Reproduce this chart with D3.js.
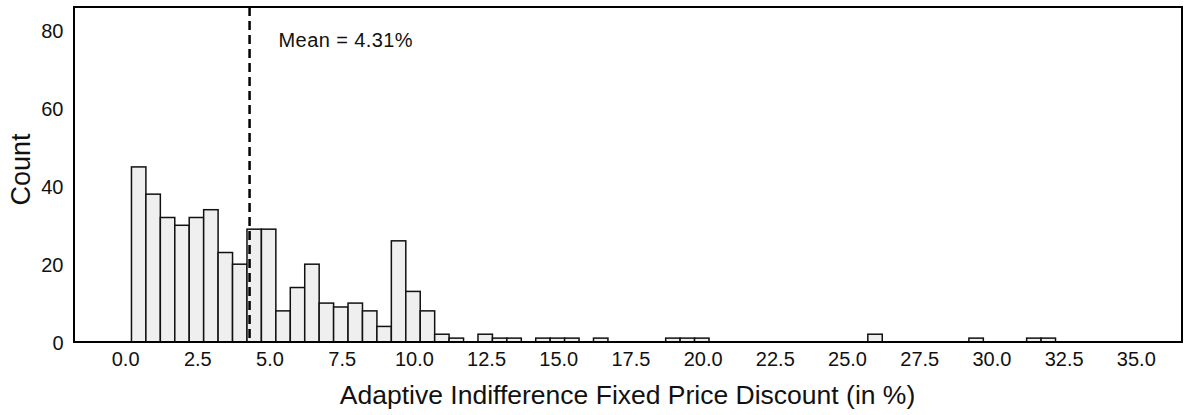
<!DOCTYPE html>
<html>
<head>
<meta charset="utf-8">
<script src="https://cdn.jsdelivr.net/npm/d3@7"></script>
<style>
  body { margin: 0; background: #fff; }
  text { font-family: "Liberation Sans", Arial, sans-serif; }
</style>
</head>
<body>
<div id="chart"></div>
<script>
// histogram bins (start of first bin, bin width) and counts per bin
var binStart = 0.22;
var binWidth = 0.5;
var counts = [45, 38, 32, 30, 32, 34, 23, 20, 29, 29, 8, 14, 20, 10, 9, 10, 8, 4, 26, 13,
  8, 2, 1, 0, 2, 1, 1, 0, 1, 1, 1, 0, 1, 0, 0, 0, 0, 1, 1, 1,
  0, 0, 0, 0, 0, 0, 0, 0, 0, 0, 0, 2, 0, 0, 0, 0, 0, 0, 1, 0,
  0, 0, 1, 1];
var meanValue = 4.31;
var xTicks = [0, 2.5, 5, 7.5, 10, 12.5, 15, 17.5, 20, 22.5, 25, 27.5, 30, 32.5, 35];
var yTicks = [0, 20, 40, 60, 80];

var W = 1185, H = 415;
var margin = { top: 7, right: 3, bottom: 73, left: 74 },
  width = W - margin.left - margin.right,
  height = H - margin.top - margin.bottom;

var svg = d3.select("#chart")
  .append("svg")
  .attr("width", W)
  .attr("height", H);

var g = svg.append("g")
  .attr("transform", "translate(" + margin.left + "," + margin.top + ")");

var x = d3.scaleLinear().domain([-1.77, 36.6]).range([0, width]);
var y = d3.scaleLinear().domain([0, 86.1]).range([height, 0]);

var bins = counts.map(function (c, i) {
  return { x0: binStart + i * binWidth, x1: binStart + (i + 1) * binWidth, count: c };
}).filter(function (d) { return d.count > 0; });

// bars
g.selectAll("rect.bar")
  .data(bins)
  .enter().append("rect")
  .attr("class", "bar")
  .attr("x", function (d) { return x(d.x0); })
  .attr("y", function (d) { return y(d.count); })
  .attr("width", function (d) { return x(d.x1) - x(d.x0); })
  .attr("height", function (d) { return y(0) - y(d.count); })
  .attr("fill", "#efefef")
  .attr("stroke", "#111")
  .attr("stroke-width", 1.5);

// mean line
g.append("line")
  .attr("x1", x(meanValue)).attr("x2", x(meanValue))
  .attr("y1", 0).attr("y2", height)
  .attr("stroke", "#000")
  .attr("stroke-width", 2.5)
  .attr("stroke-dasharray", "9,5");

g.append("text")
  .attr("x", x(meanValue) + 29)
  .attr("y", 40)
  .attr("font-size", 20)
  .attr("letter-spacing", 0.4)
  .attr("fill", "#111")
  .text("Mean = " + meanValue.toFixed(2) + "%");

// axes
var xAxis = g.append("g")
  .attr("transform", "translate(0," + height + ")")
  .call(d3.axisBottom(x).tickValues(xTicks).tickFormat(d3.format(".1f")).tickSize(0).tickPadding(10));
var yAxis = g.append("g")
  .call(d3.axisLeft(y).tickValues(yTicks).tickSize(0).tickPadding(10.5));

[xAxis, yAxis].forEach(function (a) {
  a.select(".domain").remove();
  a.selectAll("text")
    .attr("font-family", "Liberation Sans, Arial, sans-serif")
    .attr("font-size", 20)
    .attr("fill", "#111");
});
yAxis.selectAll("text").attr("dy", "0.35em");

// frame
g.append("rect")
  .attr("x", 0).attr("y", 0)
  .attr("width", width).attr("height", height)
  .attr("fill", "none")
  .attr("stroke", "#000")
  .attr("stroke-width", 2);

// axis titles
svg.append("text")
  .attr("x", margin.left + x(17.4))
  .attr("y", 404)
  .attr("text-anchor", "middle")
  .attr("font-size", 26.5)
  .attr("fill", "#111")
  .text("Adaptive Indifference Fixed Price Discount (in %)");

svg.append("text")
  .attr("transform", "translate(30," + 169.5 + ") rotate(-90)")
  .attr("text-anchor", "middle")
  .attr("font-size", 27)
  .attr("fill", "#111")
  .text("Count");
</script>
</body>
</html>
